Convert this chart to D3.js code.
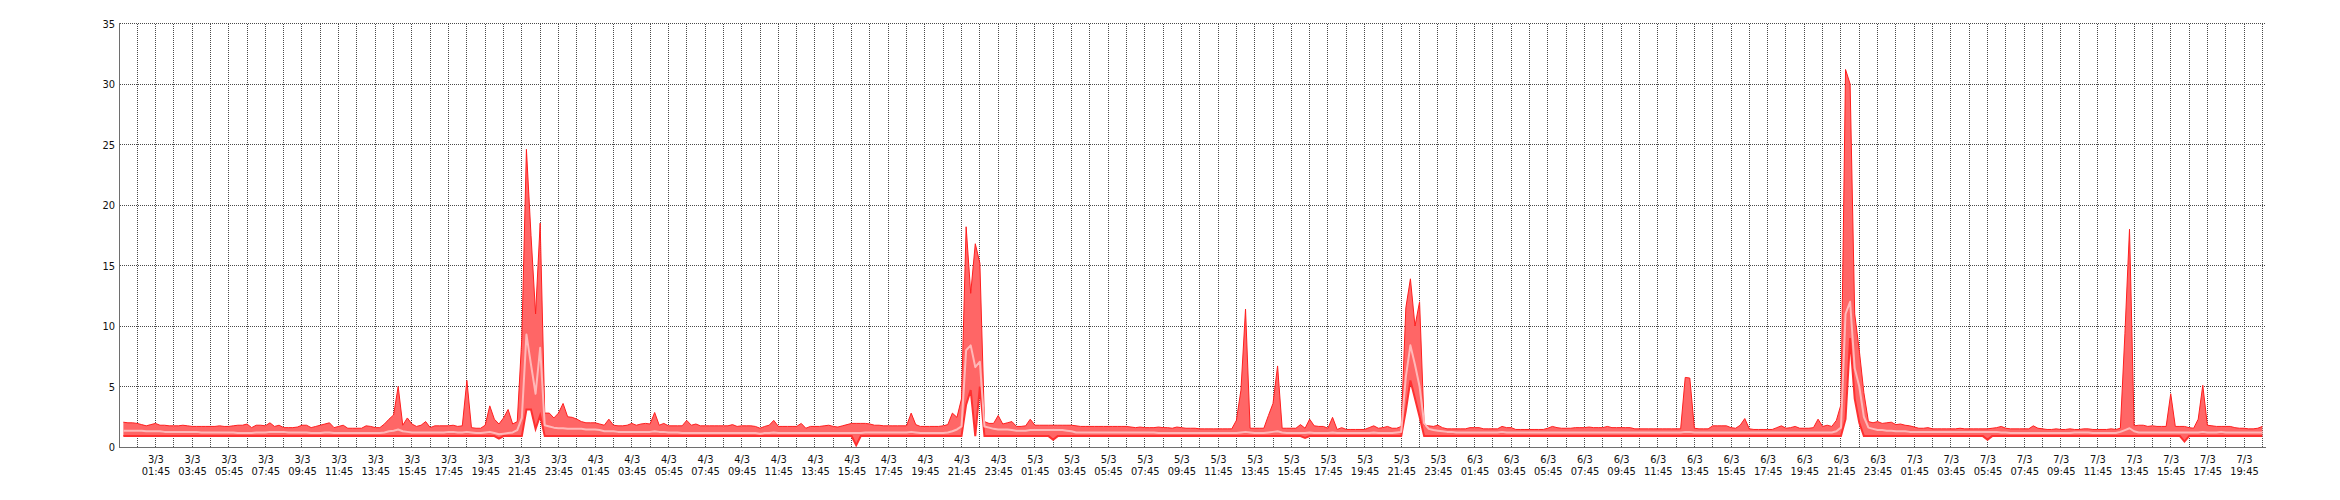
<!DOCTYPE html>
<html><head><meta charset="utf-8">
<script src="https://cdn.jsdelivr.net/npm/d3@7"></script>
<style>
html,body{margin:0;padding:0;background:#fff;}
svg{display:block;}
text{font-family:'DejaVu Sans Condensed','DejaVu Sans',sans-serif;font-stretch:condensed;font-size:11px;fill:#111;}
</style></head><body>
<svg id="chart" width="2340" height="500"></svg>
<script>
// ---- data ----
const seriesStart = "2021-03-03T00:00:00Z";   // first sample
const stepMinutes = 15;                       // sampling interval
const domainStart = "2021-03-02T23:49:00Z";
const domainEnd   = "2021-03-07T20:57:00Z";
const yTicks = [0,5,10,15,20,25,30,35];

const maxValues = [
/*3/3 00*/ 2.05,2.0,2.0,1.95,
/*01*/ 1.85,1.75,1.85,1.95,
/*02*/ 1.8,1.8,1.75,1.75,
/*03*/ 1.75,1.8,1.75,1.7,
/*04*/ 1.7,1.7,1.7,1.7,
/*05*/ 1.7,1.75,1.7,1.7,
/*06*/ 1.75,1.8,1.8,1.9,
/*07*/ 1.6,1.8,1.8,1.75,
/*08*/ 2.0,1.7,1.8,1.6,
/*09*/ 1.6,1.6,1.65,1.8,
/*10*/ 1.8,1.6,1.7,1.8,
/*11*/ 1.9,2.0,1.6,1.7,
/*12*/ 1.8,1.55,1.55,1.55,
/*13*/ 1.55,1.75,1.7,1.6,
/*14*/ 1.6,1.9,2.3,2.65,
/*15*/ 5.0,1.8,2.4,1.9,
/*16*/ 1.7,1.8,2.1,1.6,
/*17*/ 1.75,1.75,1.75,1.75,
/*18*/ 1.8,1.7,1.75,5.5,
/*19*/ 1.6,1.55,1.55,1.8,
/*20*/ 3.4,2.3,1.9,2.4,
/*21*/ 3.1,1.9,2.1,9.0,
/*22*/ 24.6,17.5,11.0,18.5,
/*23*/ 2.8,2.8,2.4,2.8,
/*4/3 00*/ 3.6,2.5,2.45,2.3,
/*01*/ 2.1,2.0,2.0,2.0,
/*02*/ 1.9,1.8,2.3,1.8,
/*03*/ 1.75,1.75,1.8,1.95,
/*04*/ 1.8,1.9,1.95,1.9,
/*05*/ 2.85,1.8,1.95,1.75,
/*06*/ 1.75,1.75,1.75,2.2,
/*07*/ 1.8,1.9,1.75,1.75,
/*08*/ 1.75,1.75,1.75,1.75,
/*09*/ 1.75,1.85,1.7,1.75,
/*10*/ 1.75,1.75,1.7,1.55,
/*11*/ 1.7,1.8,2.2,1.7,
/*12*/ 1.7,1.7,1.7,1.7,
/*13*/ 1.95,1.55,1.7,1.7,
/*14*/ 1.7,1.75,1.8,1.7,
/*15*/ 1.65,1.75,1.85,1.95,
/*16*/ 1.95,1.95,1.95,1.9,
/*17*/ 1.8,1.8,1.75,1.75,
/*18*/ 1.75,1.75,1.75,1.75,
/*19*/ 2.8,1.85,1.7,1.7,
/*20*/ 1.7,1.7,1.7,1.75,
/*21*/ 1.85,2.8,2.45,4.0,
/*22*/ 18.2,12.7,16.8,15.2,
/*23*/ 2.1,1.95,1.95,2.6,
/*5/3 00*/ 1.9,2.0,2.1,1.7,
/*01*/ 1.7,1.75,2.3,1.8,
/*02*/ 1.8,1.8,1.8,1.8,
/*03*/ 1.8,1.8,1.8,1.8,
/*04*/ 1.75,1.7,1.7,1.7,
/*05*/ 1.7,1.7,1.7,1.7,
/*06*/ 1.7,1.7,1.7,1.7,
/*07*/ 1.65,1.6,1.65,1.6,
/*08*/ 1.6,1.6,1.65,1.6,
/*09*/ 1.6,1.55,1.65,1.6,
/*10*/ 1.55,1.55,1.55,1.5,
/*11*/ 1.5,1.5,1.5,1.5,
/*12*/ 1.5,1.5,1.5,2.2,
/*13*/ 4.7,11.4,1.55,1.55,
/*14*/ 1.55,1.55,2.6,3.6,
/*15*/ 6.7,1.55,1.55,1.55,
/*16*/ 1.55,1.85,1.55,2.3,
/*17*/ 1.75,1.7,1.7,1.55,
/*18*/ 2.45,1.45,1.6,1.45,
/*19*/ 1.45,1.45,1.45,1.45,
/*20*/ 1.6,1.75,1.55,1.6,
/*21*/ 1.7,1.55,1.55,1.7,
/*22*/ 11.5,13.9,10.0,12.0,
/*23*/ 1.8,1.75,1.7,1.8,
/*6/3 00*/ 1.6,1.5,1.5,1.5,
/*01*/ 1.5,1.5,1.6,1.6,
/*02*/ 1.6,1.5,1.5,1.5,
/*03*/ 1.5,1.7,1.6,1.6,
/*04*/ 1.45,1.45,1.45,1.45,
/*05*/ 1.45,1.45,1.45,1.55,
/*06*/ 1.7,1.6,1.55,1.55,
/*07*/ 1.55,1.6,1.6,1.6,
/*08*/ 1.65,1.6,1.6,1.6,
/*09*/ 1.7,1.6,1.6,1.6,
/*10*/ 1.6,1.6,1.5,1.5,
/*11*/ 1.5,1.5,1.5,1.5,
/*12*/ 1.5,1.5,1.5,1.5,
/*13*/ 1.5,5.75,5.7,1.55,
/*14*/ 1.5,1.5,1.5,1.75,
/*15*/ 1.75,1.75,1.75,1.6,
/*16*/ 1.55,1.8,2.35,1.5,
/*17*/ 1.45,1.45,1.45,1.45,
/*18*/ 1.45,1.6,1.75,1.55,
/*19*/ 1.6,1.7,1.55,1.55,
/*20*/ 1.55,1.6,2.3,1.7,
/*21*/ 1.8,1.7,2.2,3.5,
/*22*/ 31.2,30.0,11.0,8.0,
/*23*/ 4.5,2.1,2.0,2.1,
/*7/3 00*/ 1.95,2.0,2.05,1.85,
/*01*/ 1.9,1.8,1.75,1.65,
/*02*/ 1.55,1.55,1.6,1.5,
/*03*/ 1.5,1.5,1.5,1.5,
/*04*/ 1.5,1.55,1.5,1.5,
/*05*/ 1.5,1.5,1.5,1.5,
/*06*/ 1.55,1.6,1.7,1.55,
/*07*/ 1.5,1.5,1.5,1.5,
/*08*/ 1.5,1.75,1.55,1.5,
/*09*/ 1.45,1.45,1.5,1.45,
/*10*/ 1.45,1.5,1.45,1.45,
/*11*/ 1.5,1.5,1.45,1.45,
/*12*/ 1.45,1.45,1.5,1.45,
/*13*/ 1.55,9.4,18.0,1.75,
/*14*/ 1.8,1.8,1.7,1.75,
/*15*/ 1.7,1.7,1.7,4.4,
/*16*/ 1.7,1.7,1.7,1.6,
/*17*/ 1.55,2.3,5.1,1.8,
/*18*/ 1.75,1.7,1.7,1.7,
/*19*/ 1.7,1.6,1.55,1.55,
/*20*/ 1.5,1.5,1.55,1.7
];

const avgValues = [
/*3/3 00*/ 1.35,1.35,1.35,1.35,
/*01*/ 1.35,1.3,1.3,1.3,
/*02*/ 1.3,1.25,1.25,1.25,
/*03*/ 1.25,1.25,1.25,1.25,
/*04*/ 1.25,1.2,1.2,1.2,
/*05*/ 1.2,1.2,1.2,1.2,
/*06*/ 1.2,1.15,1.15,1.15,
/*07*/ 1.15,1.2,1.2,1.2,
/*08*/ 1.25,1.25,1.25,1.25,
/*09*/ 1.2,1.2,1.2,1.2,
/*10*/ 1.2,1.15,1.15,1.15,
/*11*/ 1.2,1.2,1.15,1.15,
/*12*/ 1.15,1.15,1.15,1.15,
/*13*/ 1.15,1.15,1.15,1.15,
/*14*/ 1.15,1.2,1.3,1.35,
/*15*/ 1.45,1.3,1.25,1.2,
/*16*/ 1.2,1.2,1.2,1.2,
/*17*/ 1.2,1.2,1.2,1.25,
/*18*/ 1.25,1.2,1.2,1.25,
/*19*/ 1.2,1.15,1.15,1.2,
/*20*/ 1.25,1.15,1.05,1.1,
/*21*/ 1.15,1.2,1.4,2.4,
/*22*/ 9.3,6.8,4.4,8.2,
/*23*/ 1.8,1.7,1.6,1.55,
/*4/3 00*/ 1.55,1.5,1.5,1.5,
/*01*/ 1.5,1.45,1.45,1.45,
/*02*/ 1.4,1.3,1.3,1.3,
/*03*/ 1.25,1.25,1.25,1.25,
/*04*/ 1.25,1.25,1.25,1.25,
/*05*/ 1.3,1.25,1.25,1.2,
/*06*/ 1.2,1.2,1.15,1.15,
/*07*/ 1.15,1.15,1.15,1.15,
/*08*/ 1.15,1.15,1.15,1.15,
/*09*/ 1.15,1.15,1.15,1.15,
/*10*/ 1.15,1.15,1.15,1.1,
/*11*/ 1.15,1.15,1.2,1.15,
/*12*/ 1.15,1.15,1.15,1.15,
/*13*/ 1.15,1.15,1.15,1.15,
/*14*/ 1.15,1.15,1.15,1.15,
/*15*/ 1.15,1.15,1.15,1.15,
/*16*/ 1.15,1.15,1.2,1.2,
/*17*/ 1.2,1.2,1.2,1.2,
/*18*/ 1.2,1.2,1.2,1.2,
/*19*/ 1.25,1.2,1.15,1.15,
/*20*/ 1.15,1.15,1.15,1.15,
/*21*/ 1.2,1.3,1.45,1.7,
/*22*/ 8.0,8.4,6.6,7.05,
/*23*/ 1.7,1.6,1.5,1.45,
/*5/3 00*/ 1.45,1.45,1.4,1.35,
/*01*/ 1.35,1.35,1.4,1.4,
/*02*/ 1.4,1.4,1.4,1.4,
/*03*/ 1.4,1.4,1.35,1.3,
/*04*/ 1.2,1.2,1.2,1.2,
/*05*/ 1.2,1.2,1.2,1.2,
/*06*/ 1.2,1.2,1.2,1.2,
/*07*/ 1.2,1.2,1.2,1.2,
/*08*/ 1.2,1.2,1.15,1.15,
/*09*/ 1.15,1.15,1.15,1.15,
/*10*/ 1.15,1.15,1.15,1.15,
/*11*/ 1.15,1.15,1.15,1.15,
/*12*/ 1.15,1.15,1.15,1.15,
/*13*/ 1.2,1.25,1.2,1.15,
/*14*/ 1.15,1.15,1.2,1.25,
/*15*/ 1.3,1.2,1.15,1.15,
/*16*/ 1.15,1.15,1.15,1.2,
/*17*/ 1.15,1.15,1.15,1.15,
/*18*/ 1.2,1.15,1.15,1.15,
/*19*/ 1.15,1.15,1.15,1.15,
/*20*/ 1.15,1.2,1.15,1.15,
/*21*/ 1.15,1.15,1.2,1.25,
/*22*/ 5.8,8.4,6.8,5.0,
/*23*/ 1.95,1.5,1.4,1.35,
/*6/3 00*/ 1.3,1.25,1.25,1.2,
/*01*/ 1.2,1.2,1.2,1.2,
/*02*/ 1.2,1.2,1.2,1.2,
/*03*/ 1.2,1.25,1.2,1.2,
/*04*/ 1.2,1.2,1.2,1.2,
/*05*/ 1.2,1.2,1.2,1.2,
/*06*/ 1.2,1.2,1.2,1.2,
/*07*/ 1.2,1.2,1.2,1.2,
/*08*/ 1.2,1.2,1.2,1.2,
/*09*/ 1.2,1.2,1.2,1.2,
/*10*/ 1.2,1.2,1.2,1.2,
/*11*/ 1.2,1.2,1.2,1.2,
/*12*/ 1.2,1.2,1.2,1.2,
/*13*/ 1.2,1.25,1.25,1.2,
/*14*/ 1.2,1.2,1.2,1.2,
/*15*/ 1.2,1.2,1.2,1.2,
/*16*/ 1.2,1.2,1.2,1.2,
/*17*/ 1.2,1.2,1.2,1.2,
/*18*/ 1.2,1.2,1.2,1.2,
/*19*/ 1.2,1.2,1.2,1.2,
/*20*/ 1.2,1.2,1.2,1.2,
/*21*/ 1.2,1.2,1.3,1.6,
/*22*/ 11.0,12.0,6.5,5.0,
/*23*/ 2.5,1.6,1.5,1.4,
/*7/3 00*/ 1.4,1.35,1.35,1.3,
/*01*/ 1.3,1.3,1.25,1.25,
/*02*/ 1.25,1.25,1.25,1.25,
/*03*/ 1.25,1.25,1.25,1.25,
/*04*/ 1.25,1.25,1.25,1.25,
/*05*/ 1.25,1.25,1.25,1.25,
/*06*/ 1.25,1.25,1.2,1.2,
/*07*/ 1.15,1.15,1.15,1.15,
/*08*/ 1.15,1.15,1.15,1.15,
/*09*/ 1.15,1.15,1.15,1.15,
/*10*/ 1.15,1.15,1.2,1.2,
/*11*/ 1.2,1.2,1.15,1.15,
/*12*/ 1.15,1.15,1.15,1.15,
/*13*/ 1.25,1.4,1.55,1.3,
/*14*/ 1.2,1.2,1.2,1.2,
/*15*/ 1.2,1.2,1.2,1.2,
/*16*/ 1.2,1.2,1.2,1.2,
/*17*/ 1.2,1.2,1.25,1.2,
/*18*/ 1.2,1.2,1.25,1.2,
/*19*/ 1.2,1.2,1.2,1.2,
/*20*/ 1.2,1.2,1.2,1.2
];

const minValues = [
/*3/3 00*/ 0.9,0.9,0.9,0.9,
/*01*/ 0.9,0.9,0.9,0.9,
/*02*/ 0.9,0.9,0.9,0.9,
/*03*/ 0.9,0.9,0.9,0.9,
/*04*/ 0.9,0.9,0.9,0.9,
/*05*/ 0.9,0.9,0.9,0.9,
/*06*/ 0.9,0.9,0.9,0.9,
/*07*/ 0.9,0.9,0.9,0.9,
/*08*/ 0.9,0.9,0.9,0.9,
/*09*/ 0.9,0.9,0.9,0.9,
/*10*/ 0.9,0.9,0.9,0.9,
/*11*/ 0.9,0.9,0.9,0.9,
/*12*/ 0.9,0.9,0.9,0.9,
/*13*/ 0.9,0.9,0.9,0.9,
/*14*/ 0.9,0.9,0.9,0.9,
/*15*/ 0.9,0.9,0.9,0.9,
/*16*/ 0.9,0.9,0.9,0.9,
/*17*/ 0.9,0.9,0.9,0.9,
/*18*/ 0.9,0.9,0.9,0.9,
/*19*/ 0.9,0.9,0.9,0.9,
/*20*/ 0.9,0.9,0.7,0.9,
/*21*/ 0.9,0.9,0.9,0.9,
/*22*/ 3.1,3.1,1.5,2.6,
/*23*/ 0.9,0.9,0.9,0.9,
/*4/3 00*/ 0.9,0.9,0.9,0.9,
/*01*/ 0.9,0.9,0.9,0.9,
/*02*/ 0.9,0.9,0.9,0.9,
/*03*/ 0.9,0.9,0.9,0.9,
/*04*/ 0.9,0.9,0.9,0.9,
/*05*/ 0.9,0.9,0.9,0.9,
/*06*/ 0.9,0.9,0.9,0.9,
/*07*/ 0.9,0.9,0.9,0.9,
/*08*/ 0.9,0.9,0.9,0.9,
/*09*/ 0.9,0.9,0.9,0.9,
/*10*/ 0.9,0.9,0.9,0.9,
/*11*/ 0.9,0.9,0.9,0.9,
/*12*/ 0.9,0.9,0.9,0.9,
/*13*/ 0.9,0.9,0.9,0.9,
/*14*/ 0.9,0.9,0.9,0.9,
/*15*/ 0.9,0.9,0.9,0.9,
/*16*/ 0.15,0.9,0.9,0.9,
/*17*/ 0.9,0.9,0.9,0.9,
/*18*/ 0.9,0.9,0.9,0.9,
/*19*/ 0.9,0.9,0.9,0.9,
/*20*/ 0.9,0.9,0.9,0.9,
/*21*/ 0.9,0.9,0.9,0.9,
/*22*/ 3.5,4.7,0.9,5.0,
/*23*/ 0.9,0.9,0.9,0.9,
/*5/3 00*/ 0.9,0.9,0.9,0.9,
/*01*/ 0.9,0.9,0.9,0.9,
/*02*/ 0.9,0.9,0.9,0.6,
/*03*/ 0.9,0.9,0.9,0.9,
/*04*/ 0.9,0.9,0.9,0.9,
/*05*/ 0.9,0.9,0.9,0.9,
/*06*/ 0.9,0.9,0.9,0.9,
/*07*/ 0.9,0.9,0.9,0.9,
/*08*/ 0.9,0.9,0.9,0.9,
/*09*/ 0.9,0.9,0.9,0.9,
/*10*/ 0.9,0.9,0.9,0.9,
/*11*/ 0.9,0.9,0.9,0.9,
/*12*/ 0.9,0.9,0.9,0.9,
/*13*/ 0.9,0.9,0.9,0.9,
/*14*/ 0.9,0.9,0.9,0.9,
/*15*/ 0.9,0.9,0.9,0.9,
/*16*/ 0.9,0.9,0.75,0.9,
/*17*/ 0.9,0.9,0.9,0.9,
/*18*/ 0.9,0.9,0.9,0.9,
/*19*/ 0.9,0.9,0.9,0.9,
/*20*/ 0.9,0.9,0.9,0.9,
/*21*/ 0.9,0.9,0.9,0.9,
/*22*/ 3.0,5.5,4.0,2.5,
/*23*/ 0.9,0.9,0.9,0.9,
/*6/3 00*/ 0.9,0.9,0.9,0.9,
/*01*/ 0.9,0.9,0.9,0.9,
/*02*/ 0.9,0.9,0.9,0.9,
/*03*/ 0.9,0.9,0.9,0.9,
/*04*/ 0.9,0.9,0.9,0.9,
/*05*/ 0.9,0.9,0.9,0.9,
/*06*/ 0.9,0.9,0.9,0.9,
/*07*/ 0.9,0.9,0.9,0.9,
/*08*/ 0.9,0.9,0.9,0.9,
/*09*/ 0.9,0.9,0.9,0.9,
/*10*/ 0.9,0.9,0.9,0.9,
/*11*/ 0.9,0.9,0.9,0.9,
/*12*/ 0.9,0.9,0.9,0.9,
/*13*/ 0.9,0.9,0.9,0.9,
/*14*/ 0.9,0.9,0.9,0.9,
/*15*/ 0.9,0.9,0.9,0.9,
/*16*/ 0.9,0.9,0.9,0.9,
/*17*/ 0.9,0.9,0.9,0.9,
/*18*/ 0.9,0.9,0.9,0.9,
/*19*/ 0.9,0.9,0.9,0.9,
/*20*/ 0.9,0.9,0.9,0.9,
/*21*/ 0.9,0.9,0.9,0.9,
/*22*/ 2.3,9.0,4.0,2.0,
/*23*/ 0.9,0.9,0.9,0.9,
/*7/3 00*/ 0.9,0.9,0.9,0.9,
/*01*/ 0.9,0.9,0.9,0.9,
/*02*/ 0.9,0.9,0.9,0.9,
/*03*/ 0.9,0.9,0.9,0.9,
/*04*/ 0.9,0.9,0.9,0.9,
/*05*/ 0.9,0.9,0.9,0.6,
/*06*/ 0.9,0.9,0.9,0.9,
/*07*/ 0.9,0.9,0.9,0.9,
/*08*/ 0.9,0.9,0.9,0.9,
/*09*/ 0.9,0.9,0.9,0.9,
/*10*/ 0.9,0.9,0.9,0.9,
/*11*/ 0.9,0.9,0.9,0.9,
/*12*/ 0.9,0.9,0.9,0.9,
/*13*/ 0.9,0.9,0.9,0.9,
/*14*/ 0.9,0.9,0.9,0.9,
/*15*/ 0.9,0.9,0.9,0.9,
/*16*/ 0.9,0.9,0.45,0.9,
/*17*/ 0.9,0.9,0.9,0.9,
/*18*/ 0.9,0.9,0.9,0.9,
/*19*/ 0.9,0.9,0.9,0.9,
/*20*/ 0.9,0.9,0.9,0.9
];

// ---- layout ----
const plot = {left:120, right:2266, top:23.5, bottom:447};
const svg = d3.select("#chart");

const x = d3.scaleUtc()
  .domain([new Date(domainStart), new Date(domainEnd)])
  .range([plot.left, plot.right]);
const y = d3.scaleLinear().domain([0, 35]).range([plot.bottom, plot.top]);

const t0 = new Date(seriesStart);
const n = Math.min(maxValues.length, avgValues.length, minValues.length);
const rows = d3.range(n).map(i => ({
  t: d3.utcMinute.offset(t0, i * stepMinutes),
  max: maxValues[i], avg: avgValues[i], min: minValues[i]
}));

// hourly grid at :45, labels every second hour
const [d0, d1] = x.domain();
const hourGrid = d3.utcHour.range(d0, d1)
  .map(d => d3.utcMinute.offset(d, 45))
  .filter(d => d >= d0 && d <= d1);
const labelTicks = hourGrid.filter(d => d.getUTCHours() % 2 === 1);

const crisp = v => Math.floor(v) + 0.5;

// grid
const grid = svg.append("g").attr("stroke", "#4a4a4a").attr("stroke-width", 1)
  .attr("stroke-dasharray", "1,1").attr("shape-rendering", "crispEdges");
grid.selectAll("line.v").data(hourGrid).join("line").attr("class", "v")
  .attr("x1", d => crisp(x(d))).attr("x2", d => crisp(x(d)))
  .attr("y1", plot.top).attr("y2", plot.bottom);
grid.selectAll("line.h").data(yTicks.filter(v => v > 0)).join("line").attr("class", "h")
  .attr("x1", plot.left).attr("x2", plot.right)
  .attr("y1", d => crisp(y(d))).attr("y2", d => crisp(y(d)));

// band min..max
const area = d3.area().x(d => x(d.t)).y0(d => y(d.min)).y1(d => y(d.max));
svg.append("path").datum(rows).attr("d", area).attr("fill", "#ff6666");
svg.append("path").datum(rows)
  .attr("d", d3.line().x(d => x(d.t)).y(d => y(d.max)))
  .attr("fill", "none").attr("stroke", "#ff1f1f").attr("stroke-width", 1);
svg.append("path").datum(rows)
  .attr("d", d3.line().x(d => x(d.t)).y(d => y(d.min)))
  .attr("fill", "none").attr("stroke", "#ff3030").attr("stroke-width", 2);
svg.append("path").datum(rows)
  .attr("d", d3.line().x(d => x(d.t)).y(d => y(d.avg)))
  .attr("fill", "none").attr("stroke", "#ffb8b8").attr("stroke-width", 2)
  .attr("stroke-linejoin", "round");

// axes
const gy = svg.append("g").attr("transform", `translate(${plot.left},0)`)
  .call(d3.axisLeft(y).tickValues(yTicks).tickSize(0).tickPadding(5));
gy.select(".domain").remove();
gy.selectAll("text").attr("font-size", null).attr("font-family", null).attr("fill", "#222");

const gx = svg.append("g").attr("transform", `translate(0,${plot.bottom})`)
  .call(d3.axisBottom(x).tickValues(labelTicks).tickSize(0).tickFormat(() => ""));
gx.select(".domain").remove();
gx.selectAll(".tick text").remove();
const fDay = d3.utcFormat("%-d/%-m"), fTime = d3.utcFormat("%H:%M");
gx.selectAll(".tick").append("text").attr("text-anchor", "middle").attr("fill", "#111")
  .attr("y", 15.5).text(d => fDay(d));
gx.selectAll(".tick").append("text").attr("text-anchor", "middle").attr("fill", "#111")
  .attr("y", 27.5).text(d => fTime(d));

// axis lines
svg.append("line").attr("x1", plot.left - 0.5).attr("x2", plot.left - 0.5)
  .attr("y1", plot.top - 0.5).attr("y2", plot.bottom + 1)
  .attr("stroke", "#6e6e6e").attr("shape-rendering", "crispEdges");
svg.append("line").attr("x1", plot.left - 1).attr("x2", plot.right)
  .attr("y1", plot.bottom + 0.5).attr("y2", plot.bottom + 0.5)
  .attr("stroke", "#6e6e6e").attr("shape-rendering", "crispEdges");
</script>
</body></html>
